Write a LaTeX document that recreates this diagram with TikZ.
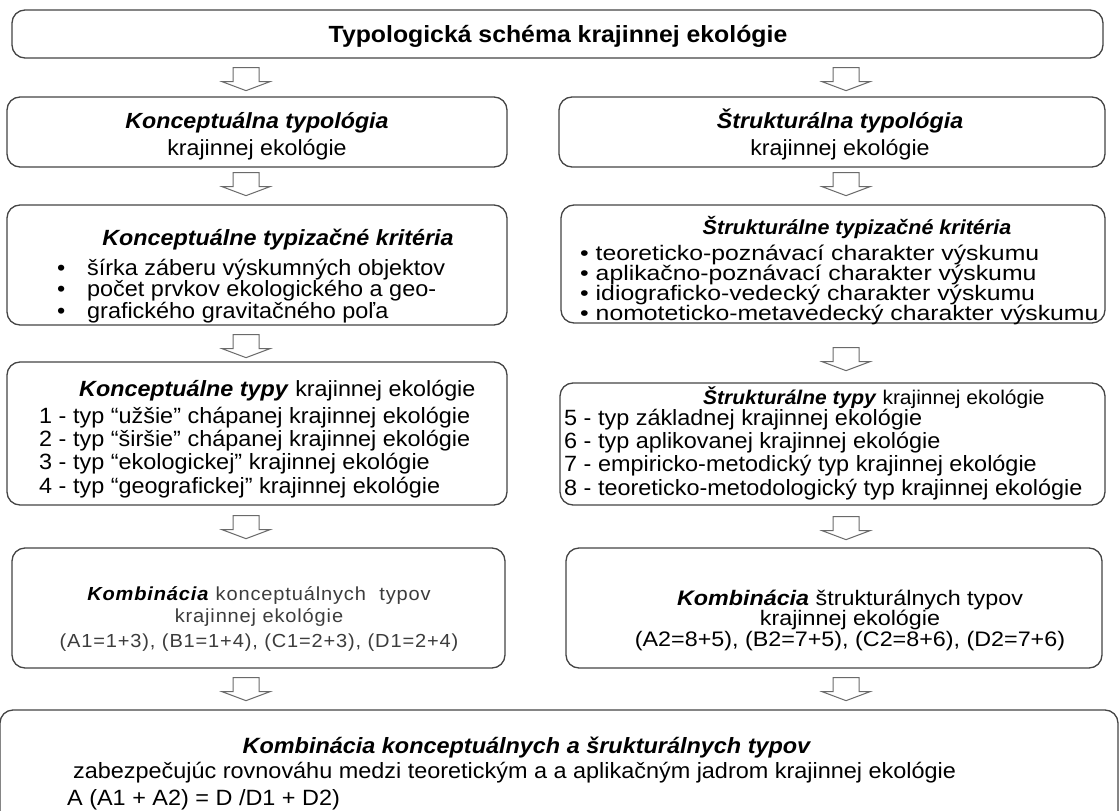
\documentclass[tikz,border=0pt]{standalone}
\usepackage{fontspec}
\setmainfont{Liberation Sans}[FakeStretch=1.06]
\newfontfamily\critfont{Liberation Sans}[FakeStretch=1.18]
\newfontfamily\kfont{Liberation Sans}[FakeStretch=1.11]
\usetikzlibrary{calc}
\definecolor{boxline}{HTML}{444444}
\definecolor{arrline}{HTML}{6A6A6A}
\definecolor{lighttext}{HTML}{3C3C3C}
\newcommand\fsz[1]{\fontsize{#1}{#1}\selectfont}
\newcommand\fszb[2]{\fontsize{#1}{#2}\selectfont\lineskiplimit=-30pt\lineskip=0pt}
\newcommand\bi[1]{\textbf{\textit{#1}}}
\newcommand\mkbox[5]{%
  \pgfmathsetmacro\mkbxc{(#2+#4)/2}%
  \pgfmathsetmacro\mkbyc{(#3+#5)/2}%
  \pgfmathsetmacro\mkbw{#4-#2}%
  \pgfmathsetmacro\mkbh{#5-#3}%
  \node[box, minimum width=\mkbw pt, minimum height=\mkbh pt] (#1) at (\mkbxc,\mkbyc) {};}
\tikzset{
  box/.style={draw=boxline, line width=1.3pt, rounded corners=13pt, inner sep=0pt, fill=white},
  harrow/.pic={\draw[draw=arrline, line width=1pt, line join=miter, fill=white]
      (-13,0) -- (13,0) -- (13,14) -- (24,14) -- (0,23) -- (-24,14) -- (-13,14) -- cycle;},
  tc/.style={inner sep=0pt, anchor=base, font=\fsz{22.1}},
  tl/.style={inner sep=0pt, anchor=base west, font=\fsz{22.1}},
  blk/.style={inner sep=0pt, anchor=north west, align=left},
  lite/.style={text=lighttext, font=\fsz{18.9}\addfontfeature{LetterSpace=4.5}},
}
\begin{document}
\begin{tikzpicture}[x=1pt,y=-1pt]
\fill[white] (0,0) rectangle (1120,811);
\useasboundingbox (0,0) rectangle (1120,811);
\coordinate (axL) at (246,0);
\coordinate (axR) at (846,0);

% boxes
\mkbox{title}{12}{10}{1103}{58}
\mkbox{b1l}{7}{97}{507}{167}
\mkbox{b1r}{559}{97}{1105}{167}
\mkbox{b2l}{7}{205}{507}{325}
\mkbox{b2r}{561}{205}{1105}{323}
\mkbox{b3l}{7}{362}{507}{505}
\mkbox{b3r}{560}{383}{1105}{505}
\mkbox{b4l}{12}{548}{505}{668}
\mkbox{b4r}{566}{548}{1102}{668}
\mkbox{fin}{0}{710}{1118}{860}

% arrows
\pic at ($(title.south -| axL)+(0,9)$) {harrow};
\pic at ($(title.south -| axR)+(0,9)$) {harrow};
\pic at ($(b1l.south -| axL)+(0,5)$) {harrow};
\pic at ($(b1r.south -| axR)+(0,5)$) {harrow};
\pic at ($(b2l.south -| axL)+(0,9)$) {harrow};
\pic at ($(b2r.south -| axR)+(0,24)$) {harrow};
\pic at ($(b3l.south -| axL)+(0,10)$) {harrow};
\pic at ($(b3r.south -| axR)+(0,11)$) {harrow};
\pic at ($(b4l.south -| axL)+(0,9)$) {harrow};
\pic at ($(b4r.south -| axR)+(0,9)$) {harrow};

% title
\node[tc, font=\fsz{23.4}\bfseries] (tt) at (558,42) {Typologická schéma krajinnej ekológie};

% row 1
\node[tc, font=\fsz{21.9}] (t1a) at (257,128) {\bi{Konceptuálna typológia}};
\node[tc, font=\fsz{21.9}] (t1b) at (257,155) {krajinnej ekológie};
\node[tc, font=\fsz{21.9}] (t1c) at (840,128) {\bi{Štrukturálna typológia}};
\node[tc, font=\fsz{21.9}] (t1d) at (840,155) {krajinnej ekológie};

% row 2 left
\node[tc, font=\fsz{22}] (t2a) at (278,245) {\bi{Konceptuálne typizačné kritéria}};
\node[blk, font=\fszb{22.1}{21.5}] (t2b) at (57,258)
  {\rule{0pt}{17pt}\makebox[30pt][l]{•}šírka záberu výskumných objektov\\
   \makebox[30pt][l]{•}počet prvkov ekologického a geo-\\
   \makebox[30pt][l]{•}grafického gravitačného poľa};

% row 2 right
\node[tc, font=\fsz{20.3}] (t2e) at (857,234) {\bi{Štrukturálne typizačné kritéria}};
\node[blk, font=\critfont\fszb{21}{20}] (t2f) at (580,243)
  {\rule{0pt}{17pt}• teoreticko-poznávací charakter výskumu\\
   • aplikačno-poznávací charakter výskumu\\
   • idiograficko-vedecký charakter výskumu\\
   • nomoteticko-metavedecký charakter výskumu};

% row 3 left
\node[tl, font=\fsz{22}] (t3a) at (79,396) {\bi{Konceptuálne typy} krajinnej ekológie};
\node[blk, font=\fszb{22.1}{23.3}] (t3b) at (39,406)
  {\rule{0pt}{17pt}1 - typ “užšie” chápanej krajinnej ekológie\\
   2 - typ “širšie” chápanej krajinnej ekológie\\
   3 - typ “ekologickej” krajinnej ekológie\\
   4 - typ “geografickej” krajinnej ekológie};

% row 3 right
\node[tl, font=\fsz{19.8}] (t3f) at (703,404) {\bi{Štrukturálne typy} krajinnej ekológie};
\node[blk, font=\fszb{22.1}{23.3}] (t3g) at (564,408)
  {\rule{0pt}{17pt}5 - typ základnej krajinnej ekológie\\
   6 - typ aplikovanej krajinnej ekológie\\
   7 - empiricko-metodický typ krajinnej ekológie\\
   8 - teoreticko-metodologický typ krajinnej ekológie};

% row 4 left
\node[tc, lite] (t4a) at (259,600) {\textcolor{black}{\bi{Kombinácia}} konceptuálnych\hspace{7pt} typov};
\node[tc, lite] (t4b) at (259,622) {krajinnej ekológie};
\node[tc, lite] (t4c) at (259,647) {(A1=1+3), (B1=1+4), (C1=2+3), (D1=2+4)};

% row 4 right
\node[inner sep=0pt, anchor=north, align=center, font=\kfont\fszb{21}{20.5}] (t4d) at (850,588)
  {\rule{0pt}{17pt}\bi{Kombinácia} štrukturálnych typov\\
   krajinnej ekológie\\
   (A2=8+5), (B2=7+5), (C2=8+6), (D2=7+6)};

% final
\node[tc] (t5a) at (527,753) {\bi{Kombinácia konceptuálnych a šrukturálnych typov}};
\node[tl] (t5b) at (73,778) {zabezpečujúc rovnováhu medzi teoretickým a a aplikačným jadrom krajinnej ekológie};
\node[tl] (t5c) at (67,805) {A (A1 + A2) = D /D1 + D2)};
\end{tikzpicture}
\end{document}
